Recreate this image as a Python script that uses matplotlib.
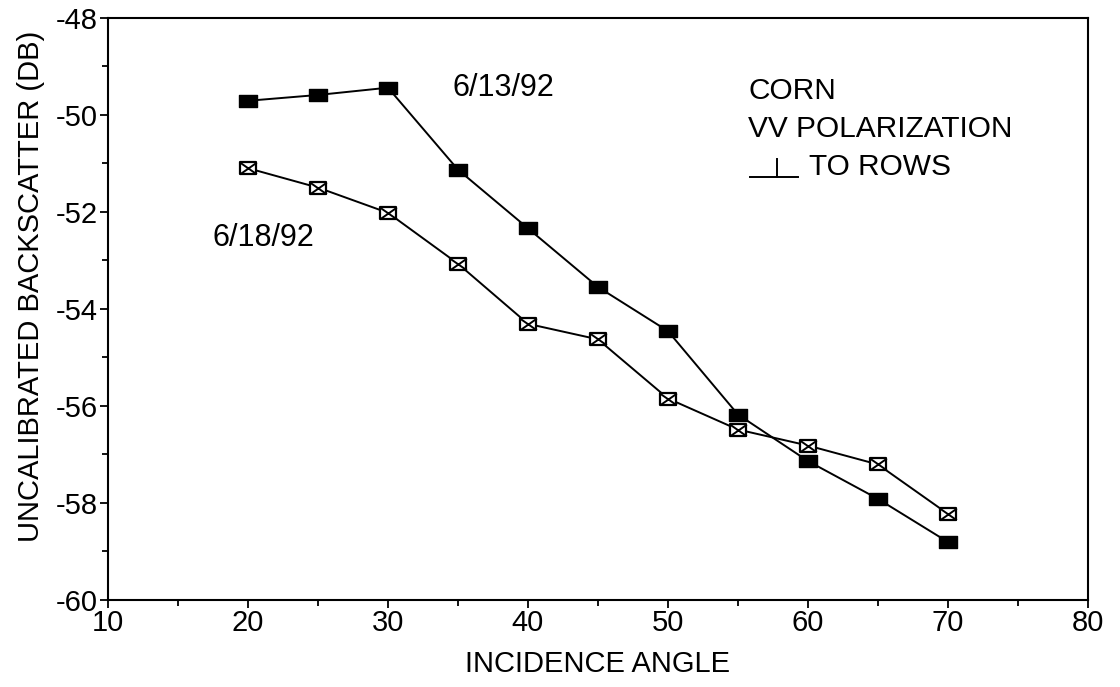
import matplotlib
matplotlib.use("Agg")
import matplotlib.pyplot as plt
from matplotlib.ticker import MultipleLocator
from matplotlib.path import Path

plt.rcParams['font.family'] = ['Liberation Sans', 'DejaVu Sans']

angles = [20, 25, 30, 35, 40, 45, 50, 55, 60, 65, 70]
corn_0613 = [-49.71, -49.59, -49.44, -51.13, -52.34, -53.55, -54.46, -56.18, -57.14, -57.92, -58.81]
corn_0618 = [-51.10, -51.50, -52.02, -53.07, -54.31, -54.63, -55.85, -56.49, -56.82, -57.21, -58.23]
xticks = [10, 20, 30, 40, 50, 60, 70, 80]
yticks = [-60, -58, -56, -54, -52, -50, -48]

rect = Path([(-1, -0.7), (1, -0.7), (1, 0.7), (-1, 0.7), (-1, -0.7)],
            [Path.MOVETO, Path.LINETO, Path.LINETO, Path.LINETO, Path.CLOSEPOLY])
xmark = Path([(-1, -0.7), (1, 0.7), (-1, 0.7), (1, -0.7)],
             [Path.MOVETO, Path.LINETO, Path.MOVETO, Path.LINETO])

fig = plt.figure(figsize=(11.2, 6.87), dpi=100)
ax = fig.add_axes([0.0964, 0.127, 0.875, 0.847])

ax.plot(angles, corn_0613, color='black', lw=1.4, marker=rect, ms=13,
        mfc='black', mec='black')
ax.plot(angles, corn_0618, color='black', lw=1.4, marker=rect, ms=12,
        mfc='white', mec='black', mew=1.6)
ax.plot(angles, corn_0618, ls='none', marker=xmark, ms=12, mec='black', mew=1.4)

ax.set_xlim(10, 80)
ax.set_ylim(-60, -48)
ax.set_xticks(xticks)
ax.set_yticks(yticks)
ax.xaxis.set_minor_locator(MultipleLocator(5))
ax.yaxis.set_minor_locator(MultipleLocator(1))
ax.tick_params(which='both', direction='out', labelsize=21, width=1.3, colors='black')
ax.tick_params(which='major', length=6, pad=1)
ax.tick_params(which='minor', length=4)
ax.set_yticklabels([str(v) for v in yticks])
for s in ax.spines.values():
    s.set_linewidth(1.5)

ax.set_xlabel('INCIDENCE ANGLE', fontsize=21, labelpad=9)
ax.set_ylabel('UNCALIBRATED BACKSCATTER (DB)', fontsize=21)
ax.yaxis.set_label_coords(-0.064, 0.538)

ax.text(34.6, -49.45, '6/13/92', fontsize=22, va='center', ha='left')
ax.text(17.45, -52.53, '6/18/92', fontsize=22, va='center', ha='left')
ax.text(55.75, -49.51, 'CORN', fontsize=21.5, va='center', ha='left')
ax.text(55.75, -50.30, 'VV POLARIZATION', fontsize=21.5, va='center', ha='left')
ax.text(60.1, -51.08, 'TO ROWS', fontsize=21.5, va='center', ha='left')
ax.plot([55.85, 59.3], [-51.29, -51.29], color='black', lw=1.4)
ax.plot([57.8, 57.8], [-51.29, -50.92], color='black', lw=1.4)

fig.savefig('out.png', dpi=100)
